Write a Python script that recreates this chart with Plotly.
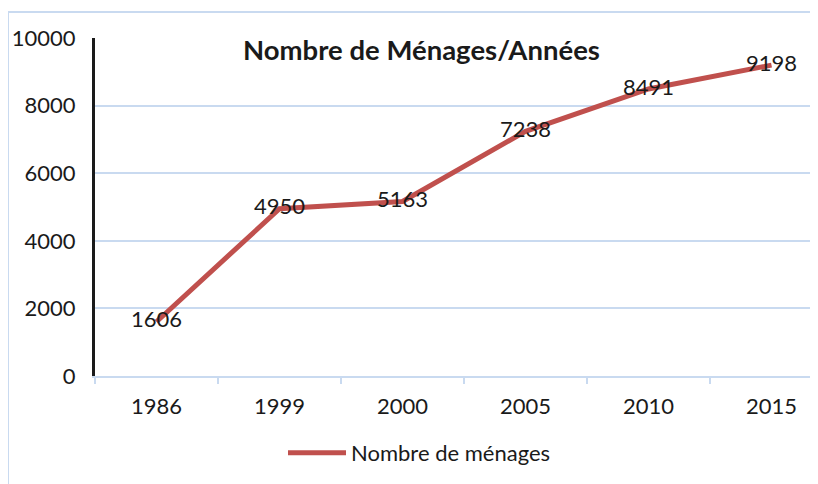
import plotly.graph_objects as go

years = ["1986", "1999", "2000", "2005", "2010", "2015"]
menages = [1606, 4950, 5163, 7238, 8491, 9198]
y_ticks = [0, 2000, 4000, 6000, 8000, 10000]
y_tick_text = ["0", "2000", "4000", "6000", "8000", "10000"]
series_name = "Nombre de ménages"
title_text = "Nombre de Ménages/Années"

FONT = "Lato"
grid = "#c9daf0"
OFF = 8  # browser body margin

W, H = 818 - OFF, 484 - OFF
L, T, B = 95 - OFF, 38 - OFF, 108
PW, PH = W - L, H - T - B

fig = go.Figure()
fig.add_trace(go.Scatter(
    x=years, y=menages, mode="lines+text", name=series_name,
    line=dict(color="#C0504D", width=5),
    text=[str(v) for v in menages], textposition="middle center",
    textfont=dict(family=FONT, size=22, color="#1a1a1a"),
    cliponaxis=False,
))

fig.update_layout(
    width=W, height=H,
    margin=dict(l=L, r=0, t=T, b=B),
    paper_bgcolor="white", plot_bgcolor="white",
    font=dict(family=FONT, size=22, color="#1a1a1a"),
    showlegend=True,
    legend=dict(orientation="h", x=(283 - 95) / PW, y=-(453 - 376) / PH, xanchor="left", yanchor="middle",
                itemwidth=58,
                font=dict(family=FONT, size=22, color="#1a1a1a")),
    xaxis=dict(type="category", range=[-0.5, 5.378], showgrid=False,
               showline=True, linecolor=grid, linewidth=2,
               ticks="outside", tickson="boundaries", ticklen=6, tickcolor=grid, tickwidth=2,
               ticklabelstandoff=10, fixedrange=True),
    yaxis=dict(range=[0, 10000], tickvals=y_ticks, ticktext=y_tick_text,
               showgrid=True, gridcolor=grid, gridwidth=2,
               showline=True, linecolor="#1a1a1a", linewidth=3, zeroline=False,
               ticks="", ticklabelstandoff=12, fixedrange=True),
    shapes=[dict(type="rect", xref="paper", yref="paper",
                 x0=(8 - 95) / PW, x1=1.2, y0=-0.5, y1=(376 - 12) / PH,
                 line=dict(color=grid, width=2), fillcolor="rgba(0,0,0,0)", layer="below")],
    annotations=[dict(text="<b>" + title_text + "</b>", xref="paper", yref="paper",
                      x=(421 - 95) / PW, y=(376 - 50) / PH, xanchor="center", yanchor="middle",
                      showarrow=False,
                      font=dict(family=FONT, size=27.5, color="#1a1a1a"))],
)

fig.write_html("out.html")
